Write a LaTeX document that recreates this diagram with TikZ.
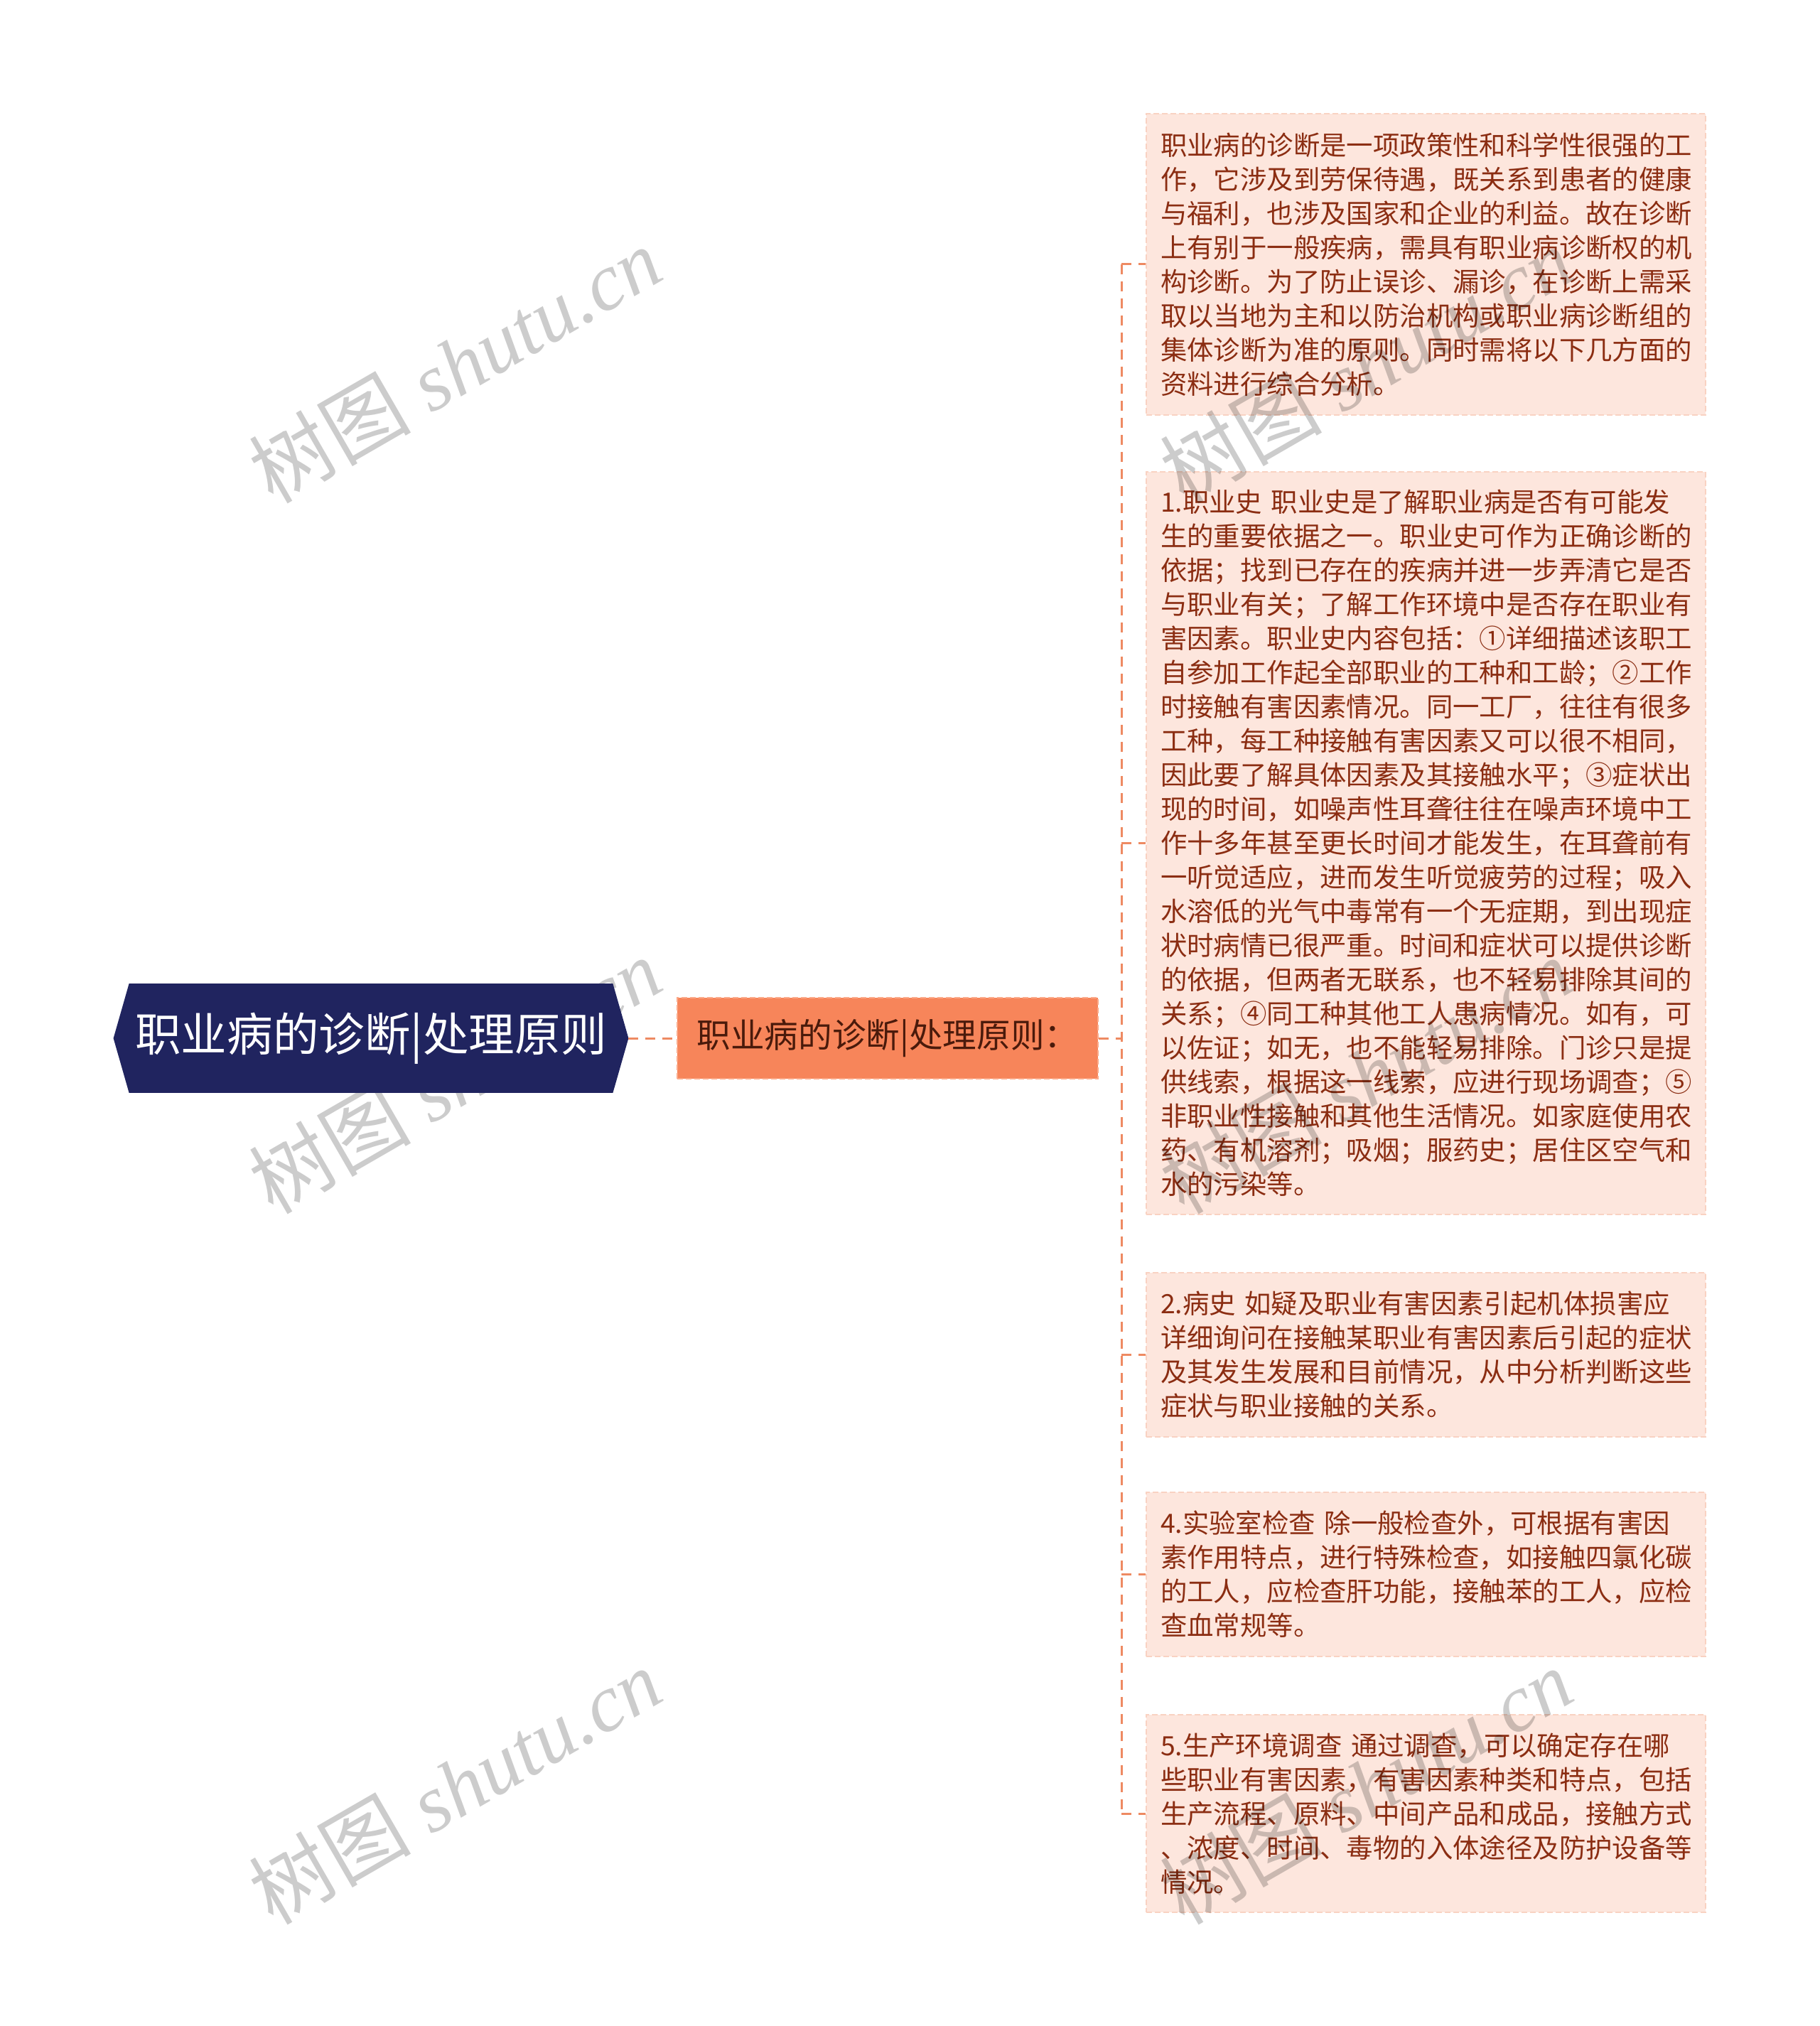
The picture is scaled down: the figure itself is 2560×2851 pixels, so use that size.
\documentclass[tikz,border=0pt]{standalone}
\usepackage{fontspec}
\setmainfont{Liberation Serif}
\newfontfamily\cjk{Noto Sans CJK SC}
\usetikzlibrary{backgrounds,calc}
\definecolor{rootfill}{HTML}{20245F}
\definecolor{midfill}{HTML}{F7855A}
\definecolor{midborder}{HTML}{FBAA8A}
\definecolor{leaffill}{HTML}{FDE6DD}
\definecolor{leafborder}{HTML}{F9D2C2}
\definecolor{leaftext}{HTML}{8B2D12}
\definecolor{midtext}{HTML}{4A1A0B}
\definecolor{linkcol}{HTML}{EE8A62}
\tikzset{
  rootnode/.style={minimum width=340pt, minimum height=76.5pt, inner sep=0pt,
    text=white, font=\cjk\fontsize{32.3pt}{36pt}\selectfont},
  midnode/.style={minimum width=296pt, minimum height=57pt, inner sep=0pt,
    fill=midfill, draw=midborder, line width=1pt, dash pattern=on 4pt off 2pt,
    text=midtext, font=\cjk\fontsize{23.8pt}{26pt}\selectfont},
  leafbox/.style={fill=leaffill, draw=leafborder, line width=1pt, dash pattern=on 4pt off 2pt,
    text=leaftext, font=\cjk\fontsize{18.7pt}{24pt}\selectfont,
    text width=373.5pt, inner xsep=10pt, inner ysep=10.5pt, align=left},
  linkline/.style={draw=linkcol, line width=1.5pt, dash pattern=on 7pt off 5pt},
  wm/.style={text=black, text opacity=0.2, rotate=30,
    font=\fontsize{57pt}{64pt}\selectfont}
}
\begin{document}
\begin{tikzpicture}[x=0.5pt,y=-0.5pt]
\useasboundingbox (0,0) rectangle (2560,2851);

% root
\node[rootnode] (root) at (522,1461) {职业病的诊断|处理原则};
\begin{scope}[on background layer]
\fill[white] (0,0) rectangle (2560,2851);
\node[wm] (w1) at (640,513) {{\cjk 树图} \textit{shutu.cn}};
\node[wm] (w2) at (640,1513) {{\cjk 树图} \textit{shutu.cn}};
\node[wm] (w3) at (640,2513) {{\cjk 树图} \textit{shutu.cn}};
\fill[rootfill] (root.north west) -- (root.north east) -- ($(root.east)+(22,0)$)
  -- (root.south east) -- (root.south west) -- ($(root.west)+(-22,0)$) -- cycle;
\end{scope}
\coordinate (roottip) at ($(root.east)+(22,0)$);

% middle
\node[midnode] (mid) at (1249,1461) {职业病的诊断|处理原则：};

% leaves
\node[leafbox, minimum height=212pt] (c1) at (2006.5,372) {职业病的诊断是一项政策性和科学性很强的工\\
作，它涉及到劳保待遇，既关系到患者的健康\\
与福利，也涉及国家和企业的利益。故在诊断\\
上有别于一般疾病，需具有职业病诊断权的机\\
构诊断。为了防止误诊、漏诊，在诊断上需采\\
取以当地为主和以防治机构或职业病诊断组的\\
集体诊断为准的原则。同时需将以下几方面的\\
资料进行综合分析。};

\node[leafbox, minimum height=522.5pt] (c2) at (2006.5,1186.5) {1.职业史 职业史是了解职业病是否有可能发\\
生的重要依据之一。职业史可作为正确诊断的\\
依据；找到已存在的疾病并进一步弄清它是否\\
与职业有关；了解工作环境中是否存在职业有\\
害因素。职业史内容包括：①详细描述该职工\\
自参加工作起全部职业的工种和工龄；②工作\\
时接触有害因素情况。同一工厂，往往有很多\\
工种，每工种接触有害因素又可以很不相同，\\
因此要了解具体因素及其接触水平；③症状出\\
现的时间，如噪声性耳聋往往在噪声环境中工\\
作十多年甚至更长时间才能发生，在耳聋前有\\
一听觉适应，进而发生听觉疲劳的过程；吸入\\
水溶低的光气中毒常有一个无症期，到出现症\\
状时病情已很严重。时间和症状可以提供诊断\\
的依据，但两者无联系，也不轻易排除其间的\\
关系；④同工种其他工人患病情况。如有，可\\
以佐证；如无，也不能轻易排除。门诊只是提\\
供线索，根据这一线索，应进行现场调查；⑤\\
非职业性接触和其他生活情况。如家庭使用农\\
药、有机溶剂；吸烟；服药史；居住区空气和\\
水的污染等。};

\node[leafbox, minimum height=115.5pt] (c3) at (2006.5,1906.5) {2.病史 如疑及职业有害因素引起机体损害应\\
详细询问在接触某职业有害因素后引起的症状\\
及其发生发展和目前情况，从中分析判断这些\\
症状与职业接触的关系。};

\node[leafbox, minimum height=115.5pt] (c4) at (2006.5,2215.5) {4.实验室检查 除一般检查外，可根据有害因\\
素作用特点，进行特殊检查，如接触四氯化碳\\
的工人，应检查肝功能，接触苯的工人，应检\\
查血常规等。};

\node[leafbox, minimum height=139pt] (c5) at (2006.5,2552) {5.生产环境调查 通过调查，可以确定存在哪\\
些职业有害因素，有害因素种类和特点，包括\\
生产流程、原料、中间产品和成品，接触方式\\
、浓度、时间、毒物的入体途径及防护设备等\\
情况。};

% connectors
\coordinate (bus) at (1578,1461);
\draw[linkline] (roottip) -- (mid.west);
\draw[linkline] (mid.east) -- (bus);
\draw[linkline] (bus |- c1.west) -- (bus |- c5.west);
\foreach \c in {c1,c2,c3,c4,c5}{
  \draw[linkline] (bus |- \c.west) -- (\c.west);
}

% watermarks over the leaves
\node[wm] (w4) at (1922,513) {{\cjk 树图} \textit{shutu.cn}};
\node[wm] (w5) at (1922,1513) {{\cjk 树图} \textit{shutu.cn}};
\node[wm] (w6) at (1922,2513) {{\cjk 树图} \textit{shutu.cn}};
\end{tikzpicture}
\end{document}
